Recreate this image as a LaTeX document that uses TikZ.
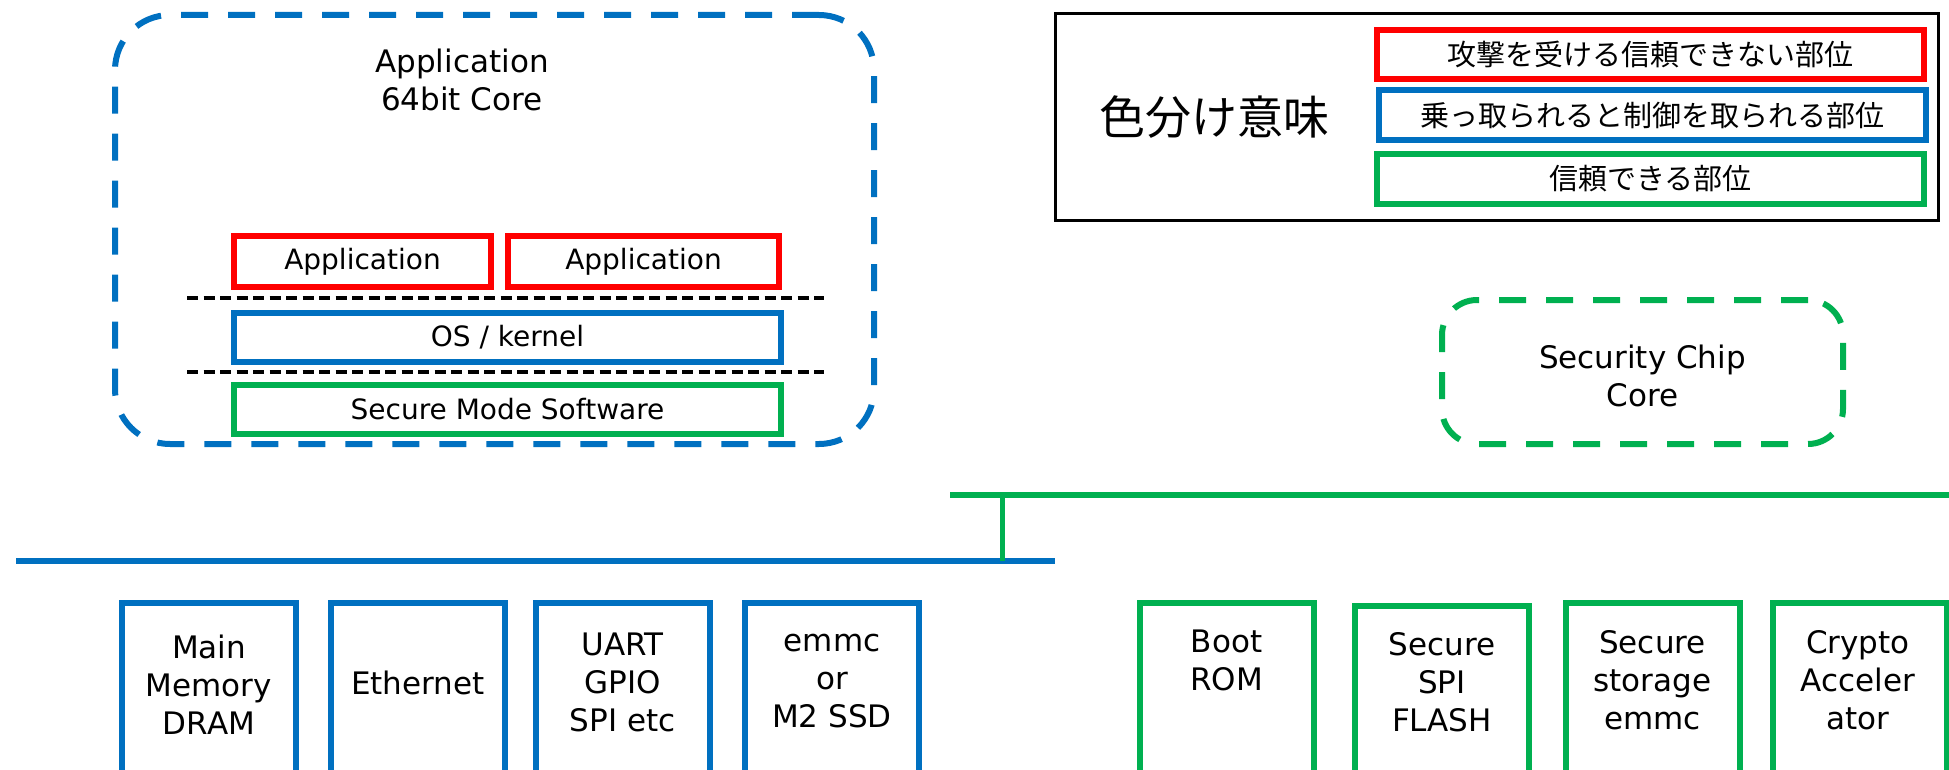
\documentclass[tikz,border=0pt]{standalone}
\usepackage{fontspec}
\setmainfont{DejaVu Sans}
\newfontfamily\jpfont{Noto Sans CJK JP}
\definecolor{attackred}{HTML}{FF0000}
\definecolor{ctrlblue}{HTML}{0070C0}
\definecolor{trustgreen}{HTML}{00B050}

\begin{document}
\begin{tikzpicture}[x=1pt,y=-1pt,
  lbl/.style={font=\fontsize{31}{38}\selectfont, align=center, inner sep=0pt},
  slbl/.style={font=\fontsize{28}{34}\selectfont, inner sep=0pt},
  jlbl/.style={font=\jpfont\fontsize{29}{34}\selectfont, inner sep=0pt},
  part/.style={draw=#1, line width=6pt, inner sep=0pt},
  corebox/.style={draw=#1, line width=6pt, inner sep=0pt,
    dash pattern=on 27pt off 20pt},
  layerline/.style={draw=black, line width=3.5pt, dash pattern=on 11pt off 5.5pt},
  bus/.style={draw=#1, line width=6pt},
  unit/.style={draw=#1, line width=6pt, inner sep=0pt, anchor=north,
    minimum width=174pt, minimum height=260pt}
]
\useasboundingbox (0,0) rectangle (1949,770);
\clip (0,0) rectangle (1949,770);

% ---- application processor ----
\node[corebox=ctrlblue, rounded corners=55pt, minimum width=759pt, minimum height=429pt]
  (apcore) at (494.5,229.5) {};
\node[lbl] (aptitle) at (462,80) {Application\\64bit Core};
\node[part=attackred, minimum width=257pt, minimum height=51pt] (app1) at (362.5,261.5) {};
\node[part=attackred, minimum width=271pt, minimum height=51pt] (app2) at (643.5,261.5) {};
\node[slbl] at (app1) {Application};
\node[slbl] at (app2) {Application};
\coordinate (sepAl) at (187,298);
\coordinate (sepAr) at (824,298);
\draw[layerline] (sepAl) -- (sepAr);
\node[part=ctrlblue, minimum width=547pt, minimum height=49pt] (os) at (507.5,337.5) {};
\node[slbl] at (os) {OS / kernel};
\coordinate (sepBl) at (187,372);
\coordinate (sepBr) at (824,372);
\draw[layerline] (sepBl) -- (sepBr);
\node[part=trustgreen, minimum width=547pt, minimum height=49pt] (secsw) at (507.5,409.5) {};
\node[slbl] at (secsw) {Secure Mode Software};

% ---- colour legend ----
\node[draw=black, line width=3pt, inner sep=0pt, minimum width=883pt, minimum height=207pt]
  (legend) at (1497,117) {};
\node[font=\jpfont\fontsize{46}{50}\selectfont, inner sep=0pt] (legtitle) at (1214,117) {色分け意味};
\node[part=attackred, minimum width=547pt, minimum height=49pt] (legred) at (1650.5,54.5) {};
\node[jlbl] at (legred) {攻撃を受ける信頼できない部位};
\node[part=ctrlblue, minimum width=547pt, minimum height=50pt] (legblue) at (1652.5,115) {};
\node[jlbl] at (legblue) {乗っ取られると制御を取られる部位};
\node[part=trustgreen, minimum width=547pt, minimum height=50pt] (leggreen) at (1650.5,179) {};
\node[jlbl] at (leggreen) {信頼できる部位};

% ---- security chip ----
\node[corebox=trustgreen, rounded corners=35pt, minimum width=401pt, minimum height=144pt]
  (seccore) at (1642.5,372) {};
\node[lbl] (sectitle) at (1642.5,376) {Security Chip\\Core};

% ---- buses ----
\coordinate (gbusL) at (950,495);
\coordinate (gbusR) at (1949,495);
\coordinate (bbusL) at (16,561);
\coordinate (bbusR) at (1055,561);
\coordinate (bridge) at (1002.5,495);
\draw[bus=ctrlblue] (bbusL) -- (bbusR);
\draw[bus=trustgreen] (gbusL) -- (gbusR);
\draw[trustgreen, line width=5pt] (bridge) -- (bridge |- bbusL);

% ---- peripherals on the main bus ----
\node[unit=ctrlblue] (dram) at (209,600) {};
\node[unit=ctrlblue] (eth)  at (418,600) {};
\node[unit=ctrlblue] (uart) at (622.5,600) {};
\node[unit=ctrlblue] (emmc) at (832,600) {};
\node[lbl] (dramT) at (209,685) {Main\\Memory\\DRAM};
\node[lbl] (ethT)  at (418,683) {Ethernet};
\node[lbl] (uartT) at (622.5,682) {UART\\GPIO\\SPI etc};
\node[lbl] (emmcT) at (832,681) {emmc\\or\\M2 SSD};

% ---- peripherals on the secure bus ----
\node[unit=trustgreen] (brom)  at (1226.5,600) {};
\node[unit=trustgreen] (sspi)  at (1442,603) {};
\node[unit=trustgreen] (sstor) at (1652.5,600) {};
\node[unit=trustgreen] (crypt) at (1860,600) {};
\node[lbl] (bromT)  at (1226.5,660) {Boot\\ROM};
\node[lbl] (sspiT)  at (1442,682) {Secure\\SPI\\FLASH};
\node[lbl] (sstorT) at (1652.5,680) {Secure\\storage\\emmc};
\node[lbl] (cryptT) at (1858,680) {Crypto\\Acceler\\ator};
\end{tikzpicture}
\end{document}
